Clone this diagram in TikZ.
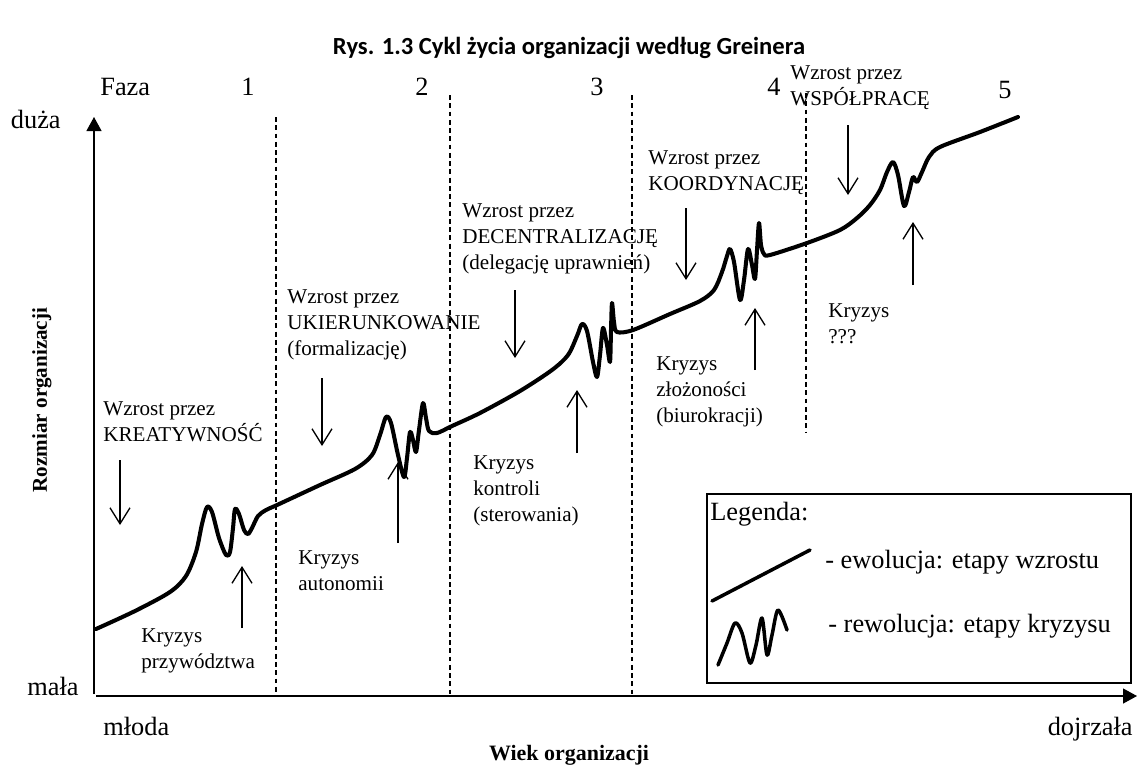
\documentclass[tikz,border=0pt]{standalone}
\usepackage{fontspec}
\setmainfont{Liberation Serif}
\newfontfamily\titlefont{Carlito}
\usetikzlibrary{arrows.meta}
\begin{document}
\begin{tikzpicture}[x=0.02cm,y=-0.02cm,
  lbl/.style={anchor=north west,inner sep=0pt,align=left,font=\fontsize{12}{14.8}\selectfont},
  big/.style={inner sep=0pt,font=\fontsize{15}{18}\selectfont},
  ptr/.style={line width=0.75pt,-{Straight Barb[length=0.32cm,width=0.4cm]}},
  axis/.style={line width=0.7pt,-{Triangle[length=0.28cm,width=0.3cm]}},
  phase/.style={line width=0.7pt,dash pattern=on 2.8pt off 1.9pt},
  growth/.style={line width=2.3pt,line cap=round,line join=round}
]
\useasboundingbox (0,0) rectangle (1138,765);

% title
\node[anchor=base,inner sep=0pt,font={\titlefont\fontsize{14}{16}\selectfont\bfseries}] (title) at (569,54)
  {Rys. 1.3 Cykl życia organizacji według Greinera};

% axes
\coordinate (yfoot) at (94,694);
\coordinate (ytop) at (94,117);
\coordinate (xfoot) at (96,696);
\coordinate (xend) at (1137,696);
\draw[axis] (yfoot) -- (ytop);
\draw[axis] (xfoot) -- (xend);

% axis annotations
\node[big,anchor=base east] (duza) at (61,128) {duża};
\node[big,anchor=base west] (mala) at (27,695) {mała};
\node[big,anchor=base west] (mloda) at (103,735) {młoda};
\node[big,anchor=base east] (dojrz) at (1133,735) {dojrzała};
\node[anchor=base,inner sep=0pt,font=\fontsize{12.5}{15}\selectfont\bfseries] (wiek) at (569,760) {Wiek organizacji};
\node[anchor=center,inner sep=0pt,rotate=90,font=\fontsize{12}{15}\selectfont\bfseries] (rozm) at (42,400) {Rozmiar organizacji};

% phase numbers
\node[big,anchor=base west] (faza) at (100,95) {Faza};
\node[big,anchor=base] (f1) at (248,95) {1};
\node[big,anchor=base] (f2) at (422,95) {2};
\node[big,anchor=base] (f3) at (597,95) {3};
\node[big,anchor=base] (f4) at (774,95) {4};
\node[big,anchor=base] (f5) at (1005,98) {5};

% phase boundaries
\draw[phase] (276,117) -- (276,694);
\draw[phase] (450,95) -- (450,694);
\draw[phase] (632,95) -- (632,694);
\draw[phase] (806,93) -- (806,433);

% growth curve: evolution segments with revolution wiggles
\draw[growth] plot[smooth,tension=0.5] coordinates {
 (96,629) (135,611) (170,592) (186,576) (196,552) (202,524) (207,507) (212,512)
 (219,538) (226,555) (230,552) (233,528) (235,509) (239,514) (244,530) (248,534)
 (252,528) (258,516) (266,510) (277,505) (320,485) (355,469) (372,455) (380,435)
 (386,417) (391,423) (398,455) (404,477) (407,458) (410,432) (413,440) (416,452)
 (419,430) (423,403) (426,418) (429,431) (437,433) (452,426) (480,413) (520,391)
 (552,370) (568,355) (577,336) (582,324) (587,331) (593,362) (597,377) (600,355)
 (603,328) (607,345) (610,362) (611,330) (612,303) (614,322) (617,332) (633,330)
 (670,314) (700,301) (714,290) (722,272) (727,256) (730,249) (734,262) (740,300)
 (744,280) (748,249) (752,265) (755,279) (757,250) (759,223) (761,245) (764,254)
 (770,255) (807,243) (840,230) (857,218) (870,205) (880,190) (887,172) (893,162)
 (898,175) (904,206) (909,192) (913,177) (917,182) (922,172) (929,157) (940,147)
 (980,132) (1018,117)};

% growth phase labels
\node[lbl] (g1) at (103,401) {Wzrost przez\\KREATYWNOŚĆ};
\node[lbl] (g2) at (287,289) {Wzrost przez\\UKIERUNKOWANIE\\(formalizację)};
\node[lbl] (g3) at (462,203) {Wzrost przez\\DECENTRALIZACJĘ\\(delegację uprawnień)};
\node[lbl] (g4) at (648,150) {Wzrost przez\\KOORDYNACJĘ};
\node[lbl] (g5) at (790,65) {Wzrost przez\\WSPÓŁPRACĘ};

% crisis labels
\node[lbl] (c1) at (141,628) {Kryzys\\przywództwa};
\node[lbl] (c2) at (298,550) {Kryzys\\autonomii};
\node[lbl] (c3) at (473,455) {Kryzys\\kontroli\\(sterowania)};
\node[lbl] (c4) at (656,356) {Kryzys\\złożoności\\(biurokracji)};
\node[lbl] (c5) at (828,303) {Kryzys\\???};

% pointers
\coordinate (g1a) at (120,460); \coordinate (g1b) at (120,525);
\coordinate (g2a) at (322,378); \coordinate (g2b) at (322,446);
\coordinate (g3a) at (515,290); \coordinate (g3b) at (515,358);
\coordinate (g4a) at (686,208); \coordinate (g4b) at (686,280);
\coordinate (g5a) at (848,125); \coordinate (g5b) at (848,195);
\coordinate (c1a) at (242,628); \coordinate (c1b) at (242,566);
\coordinate (c2a) at (398,543); \coordinate (c2b) at (398,462);
\coordinate (c3a) at (577,453); \coordinate (c3b) at (577,390);
\coordinate (c4a) at (755,370); \coordinate (c4b) at (755,308);
\coordinate (c5a) at (913,285); \coordinate (c5b) at (913,222);
\foreach \p in {g1,g2,g3,g4,g5,c1,c2,c3,c4,c5}
  \draw[ptr] (\p a) -- (\p b);

% legend
\draw[line width=1.2pt] (707,494) rectangle (1131,683);
\node[big,anchor=base west] (leg) at (710,520) {Legenda:};
\draw[line width=2pt,line cap=round] (712,601) -- (810,550);
\node[big,anchor=base west] (evo) at (825,568) {- ewolucja: etapy wzrostu};
\draw[line width=2pt,line cap=round,line join=round] plot[smooth,tension=0.5] coordinates {
 (718,665) (727,643) (735,623) (742,633) (750,663) (756,645) (762,618) (767,655)
 (772,635) (778,610) (787,630)};
\node[big,anchor=base west] (rev) at (828,632) {- rewolucja: etapy kryzysu};
\end{tikzpicture}
\end{document}
